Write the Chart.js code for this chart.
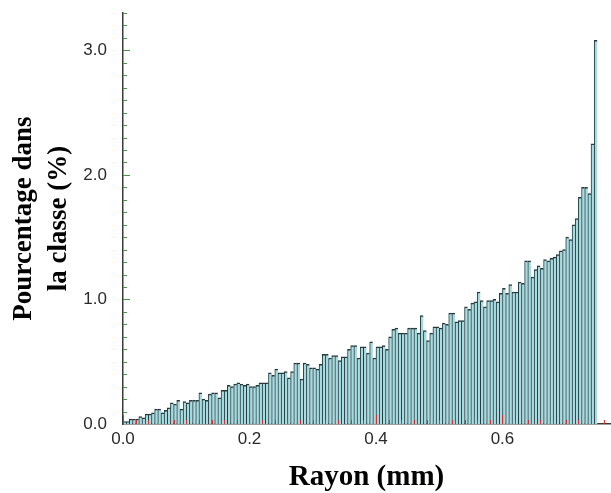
<!DOCTYPE html>
<html>
<head>
<meta charset="utf-8">
<script src="https://cdn.jsdelivr.net/npm/chart.js@4/dist/chart.umd.min.js"></script>
<style>
  body { margin: 0; background: #fff; }
  #histo { display: block; }
</style>
</head>
<body>
<canvas id="histo" width="611" height="493"></canvas>
<script>
// histogram classes: 150 classes of 0.005 mm from 0 to 0.75 mm
const binWidth = 0.005;
const binCount = 150;

// percentage in each class
const pourcentages = [
    0.02, 0.02, 0.04, 0.04, 0.04, 0.06, 0.05, 0.08, 0.08, 0.09,
    0.12, 0.12, 0.09, 0.11, 0.13, 0.17, 0.16, 0.19, 0.12, 0.18,
    0.17, 0.19, 0.19, 0.19, 0.25, 0.20, 0.19, 0.24, 0.25, 0.25,
    0.21, 0.27, 0.27, 0.31, 0.30, 0.32, 0.33, 0.32, 0.31, 0.32,
    0.30, 0.30, 0.31, 0.33, 0.33, 0.33, 0.41, 0.39, 0.44, 0.41,
    0.41, 0.42, 0.37, 0.42, 0.49, 0.49, 0.36, 0.49, 0.48, 0.45,
    0.45, 0.44, 0.48, 0.56, 0.56, 0.53, 0.55, 0.55, 0.51, 0.54,
    0.54, 0.60, 0.63, 0.63, 0.53, 0.62, 0.62, 0.57, 0.66, 0.53,
    0.62, 0.62, 0.63, 0.60, 0.70, 0.76, 0.77, 0.73, 0.73, 0.73,
    0.77, 0.77, 0.77, 0.73, 0.87, 0.75, 0.67, 0.73, 0.78, 0.78,
    0.77, 0.81, 0.80, 0.89, 0.89, 0.82, 0.83, 0.83, 0.94, 0.92,
    0.97, 0.98, 1.06, 0.99, 0.94, 0.99, 0.99, 1.00, 0.98, 1.05,
    1.09, 1.05, 1.12, 1.06, 1.06, 1.14, 1.13, 1.31, 1.31, 1.18,
    1.24, 1.27, 1.25, 1.32, 1.31, 1.33, 1.34, 1.36, 1.39, 1.40,
    1.50, 1.48, 1.60, 1.65, 1.82, 1.90, 1.90, 1.85, 2.25, 3.08
];

// axis labels
const xTickValues = [0.0, 0.2, 0.4, 0.6];
const yTickValues = [0.0, 1.0, 2.0, 3.0];
const xTitle = "Rayon (mm)";
const yTitle = ["Pourcentage dans", "la classe (%)"];

let centres = [];
for (let i = 0; i < binCount; i++) {
    centres.push((i + 0.5) * binWidth);
}

let points = pourcentages.map(function (v, i) {
    return { x: centres[i], y: v };
});

//small inside ticks, red on x, green on y
const minorTicks = {
    id: "minorTicks",
    afterDatasetsDraw(chart) {
        let ctx = chart.ctx;
        let xs = chart.scales.x;
        let ys = chart.scales.y;
        ctx.save();
        ctx.lineWidth = 1;

        ctx.strokeStyle = "#e8262a";
        for (let i = 0; i * 0.02 <= xs.max + 1e-9; i++) {
            let px = Math.round(xs.getPixelForValue(i * 0.02)) + 0.5;
            let len = (i % 10 === 0) ? 9 : 4;
            ctx.beginPath();
            ctx.moveTo(px, ys.bottom);
            ctx.lineTo(px, ys.bottom - len);
            ctx.stroke();
        }

        ctx.strokeStyle = "#3c9a3c";
        for (let j = 1; j * 0.1 <= ys.max + 1e-9; j++) {
            let py = Math.round(ys.getPixelForValue(j * 0.1)) + 0.5;
            let len = (j % 10 === 0) ? 7 : 4;
            ctx.beginPath();
            ctx.moveTo(xs.left, py);
            ctx.lineTo(xs.left + len, py);
            ctx.stroke();
        }
        ctx.restore();
    }
};

let ctxH = document.getElementById("histo").getContext("2d");
let histoChart = new Chart(ctxH, {
    type: "bar",
    data: {
        datasets: [{
            label: "Pourcentage",
            data: points,
            backgroundColor: "#a6dce1",
            borderColor: "#27393b",
            borderWidth: { top: 1.5, left: 1, right: 0, bottom: 0 },
            barPercentage: 1.0,
            categoryPercentage: 1.0
        }]
    },
    options: {
        responsive: false,
        animation: false,
        events: [],
        layout: { padding: { top: 13, right: 1, left: 0, bottom: 0 } },
        plugins: {
            legend: { display: false },
            tooltip: { enabled: false }
        },
        scales: {
            x: {
                type: "linear",
                offset: false,
                min: 0,
                max: 0.77,
                grid: { display: false, drawTicks: false },
                border: { display: true, color: "#3a3a3a", width: 1.5 },
                afterBuildTicks: function (scale) {
                    scale.ticks = xTickValues.map(function (v) { return { value: v }; });
                },
                afterFit: function (scale) {
                    scale.height = 69;
                    scale.paddingRight = 0;
                },
                ticks: {
                    padding: 5,
                    color: "#2a2a2a",
                    font: { family: "'Liberation Sans', Arial, sans-serif", size: 17 },
                    maxRotation: 0,
                    callback: function (v) { return Number(v).toFixed(1); }
                },
                title: {
                    display: true,
                    text: xTitle,
                    color: "#000",
                    padding: { top: 0, bottom: 0 },
                    font: { family: "'Liberation Serif', 'Times New Roman', serif", size: 29, weight: "bold", lineHeight: 1.05 }
                }
            },
            y: {
                min: 0,
                max: 3.3,
                grid: { display: false, drawTicks: false },
                border: { display: true, color: "#3a3a3a", width: 1.5 },
                afterBuildTicks: function (scale) {
                    scale.ticks = yTickValues.map(function (v) { return { value: v }; });
                },
                afterFit: function (scale) {
                    scale.width = 123;
                    scale.paddingTop = 0;
                    scale.paddingBottom = 0;
                },
                ticks: {
                    padding: 16,
                    color: "#2a2a2a",
                    font: { family: "'Liberation Sans', Arial, sans-serif", size: 17 },
                    callback: function (v) { return Number(v).toFixed(1); }
                },
                title: {
                    display: true,
                    text: yTitle,
                    color: "#000",
                    padding: { top: 6, bottom: 0 },
                    font: { family: "'Liberation Serif', 'Times New Roman', serif", size: 27, weight: "bold", lineHeight: 1.3 }
                }
            }
        }
    },
    plugins: [minorTicks]
});
</script>
</body>
</html>
